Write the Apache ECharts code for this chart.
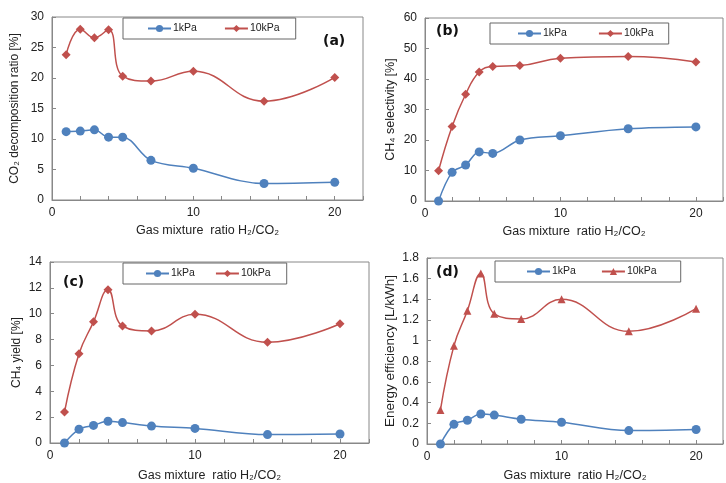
<!DOCTYPE html>
<html><head><meta charset="utf-8">
<script src="https://cdn.jsdelivr.net/npm/echarts@6/dist/echarts.min.js"></script>
<style>html,body{margin:0;padding:0;background:#fff}#c{width:726px;height:483px}</style>
</head><body><div id="c"></div>
<script>
const xVals = [1, 2, 3, 4, 5, 7, 10, 15, 20];
const seriesNames = ['1kPa', '10kPa'];
const co2Decomp1k  = [11.2, 11.3, 11.5, 10.3, 10.3, 6.5, 5.2, 2.7, 2.9];
const co2Decomp10k = [23.8, 28.0, 26.6, 27.9, 20.3, 19.5, 21.1, 16.2, 20.1];
const ch4Select1k  = [0, 9.4, 11.8, 16.1, 15.6, 20.0, 21.4, 23.7, 24.3];
const ch4Select10k = [9.9, 24.4, 35.0, 42.3, 44.1, 44.4, 46.8, 47.4, 45.6];
const ch4Yield1k   = [0, 1.06, 1.36, 1.68, 1.58, 1.31, 1.13, 0.65, 0.70];
const ch4Yield10k  = [2.39, 6.9, 9.37, 11.86, 9.05, 8.67, 9.95, 7.79, 9.22];
const energy1k     = [0, 0.19, 0.23, 0.29, 0.28, 0.24, 0.21, 0.13, 0.14];
const energy10k    = [0.33, 0.95, 1.29, 1.65, 1.26, 1.21, 1.40, 1.09, 1.31];
const yNames = ['CO\u2082 decomposition ratio [%]', 'CH\u2084 selectivity [%]', 'CH\u2084 yield [%]', 'Energy efficiency [L/kWh]'];
const xName = 'Gas mixture  ratio H\u2082/CO\u2082';
const panelLabels = ['(a)', '(b)', '(c)', '(d)'];
const yMax = [30, 60, 14, 1.8];
const yInterval = [5, 10, 2, 0.2];

const BLUE = '#4F81BD', RED = '#C0504D';
const font = 'Liberation Sans, Arial, sans-serif';
const grids = [
  {left: 52, top: 17, width: 311, height: 183},
  {left: 425, top: 18, width: 311, height: 183},
  {left: 50, top: 262, width: 319, height: 185},
  {left: 427, top: 258, width: 311, height: 190}
];
const yNameGap = [31, 28, 27, 30];
const yNameSize = [12, 12.5, 12, 13.5];
const xNameGap = [24, 24, 26, 25];
const legendPos = [
  {left: 123, top: 18, padding: [5, 16, 5, 24], gap: 27},
  {left: 490, top: 23, padding: [5, 15, 5, 27], gap: 31},
  {left: 123, top: 263, padding: [5, 16, 5, 22], gap: 20},
  {left: 495, top: 261, padding: [5, 24, 5, 31], gap: 25}
];
const labelPos = [[323, 34], [436, 24], [63, 275], [436, 265]];
const data1 = [co2Decomp1k, ch4Select1k, ch4Yield1k, energy1k];
const data10 = [co2Decomp10k, ch4Select10k, ch4Yield10k, energy10k];
const sym10 = ['diamond', 'diamond', 'diamond', 'triangle'];

const option = {
  backgroundColor: '#fff',
  animation: false,
  grid: grids.map(g => Object.assign({show: true, borderColor: '#888', borderWidth: 1, containLabel: false}, g)),
  xAxis: grids.map((g, i) => ({
    gridIndex: i, type: 'value', min: 0, max: 22, interval: 2,
    name: xName, nameLocation: 'middle', nameGap: xNameGap[i],
    nameTextStyle: {fontFamily: font, fontSize: 12.5, color: '#222'},
    axisLine: {lineStyle: {color: '#888'}},
    axisTick: {inside: true, length: 4, lineStyle: {color: '#888'}},
    axisLabel: {fontFamily: font, fontSize: 12, color: '#222', margin: 7,
      formatter: v => (v % 10 === 0 && v <= 20) ? String(v) : ''},
    splitLine: {show: false}
  })),
  yAxis: grids.map((g, i) => ({
    gridIndex: i, type: 'value', min: 0, max: yMax[i], interval: yInterval[i],
    name: yNames[i], nameLocation: 'middle', nameGap: yNameGap[i],
    nameTextStyle: {fontFamily: font, fontSize: yNameSize[i], color: '#222'},
    axisLine: {show: true, lineStyle: {color: '#888'}},
    axisTick: {show: true, inside: true, length: 4, lineStyle: {color: '#888'}},
    axisLabel: {fontFamily: font, fontSize: 12, color: '#222', margin: 8},
    splitLine: {show: false}
  })),
  legend: legendPos.map((p, i) => ({
    left: p.left, top: p.top, padding: p.padding, itemGap: p.gap,
    itemWidth: 23, itemHeight: 9, borderColor: '#666', borderWidth: 1,
    textStyle: {fontFamily: font, fontSize: 10.5, color: '#222', padding: [0, 0, 0, -3]},
    data: seriesNames.map(n => n + '\u200b'.repeat(i))
  })),
  graphic: labelPos.map((p, i) => ({
    type: 'text', left: p[0], top: p[1],
    style: {text: panelLabels[i], font: 'bold 14px DejaVu Sans, Verdana, sans-serif', fill: '#111'}
  })),
  series: []
};
for (let i = 0; i < 4; i++) {
  option.series.push({
    name: seriesNames[0] + '\u200b'.repeat(i), type: 'line', xAxisIndex: i, yAxisIndex: i,
    data: xVals.map((x, k) => [x, data1[i][k]]),
    smooth: 0.35, symbol: 'circle', symbolSize: 9,
    lineStyle: {color: BLUE, width: 1.5}, itemStyle: {color: BLUE}
  });
  option.series.push({
    name: seriesNames[1] + '\u200b'.repeat(i), type: 'line', xAxisIndex: i, yAxisIndex: i,
    data: xVals.map((x, k) => [x, data10[i][k]]),
    smooth: 0.45, symbol: sym10[i], symbolSize: sym10[i] === 'triangle' ? 8 : 9,
    lineStyle: {color: RED, width: 1.5}, itemStyle: {color: RED}
  });
}
const chart = echarts.init(document.getElementById('c'), null, {renderer: 'canvas'});
chart.setOption(option);
</script></body></html>
